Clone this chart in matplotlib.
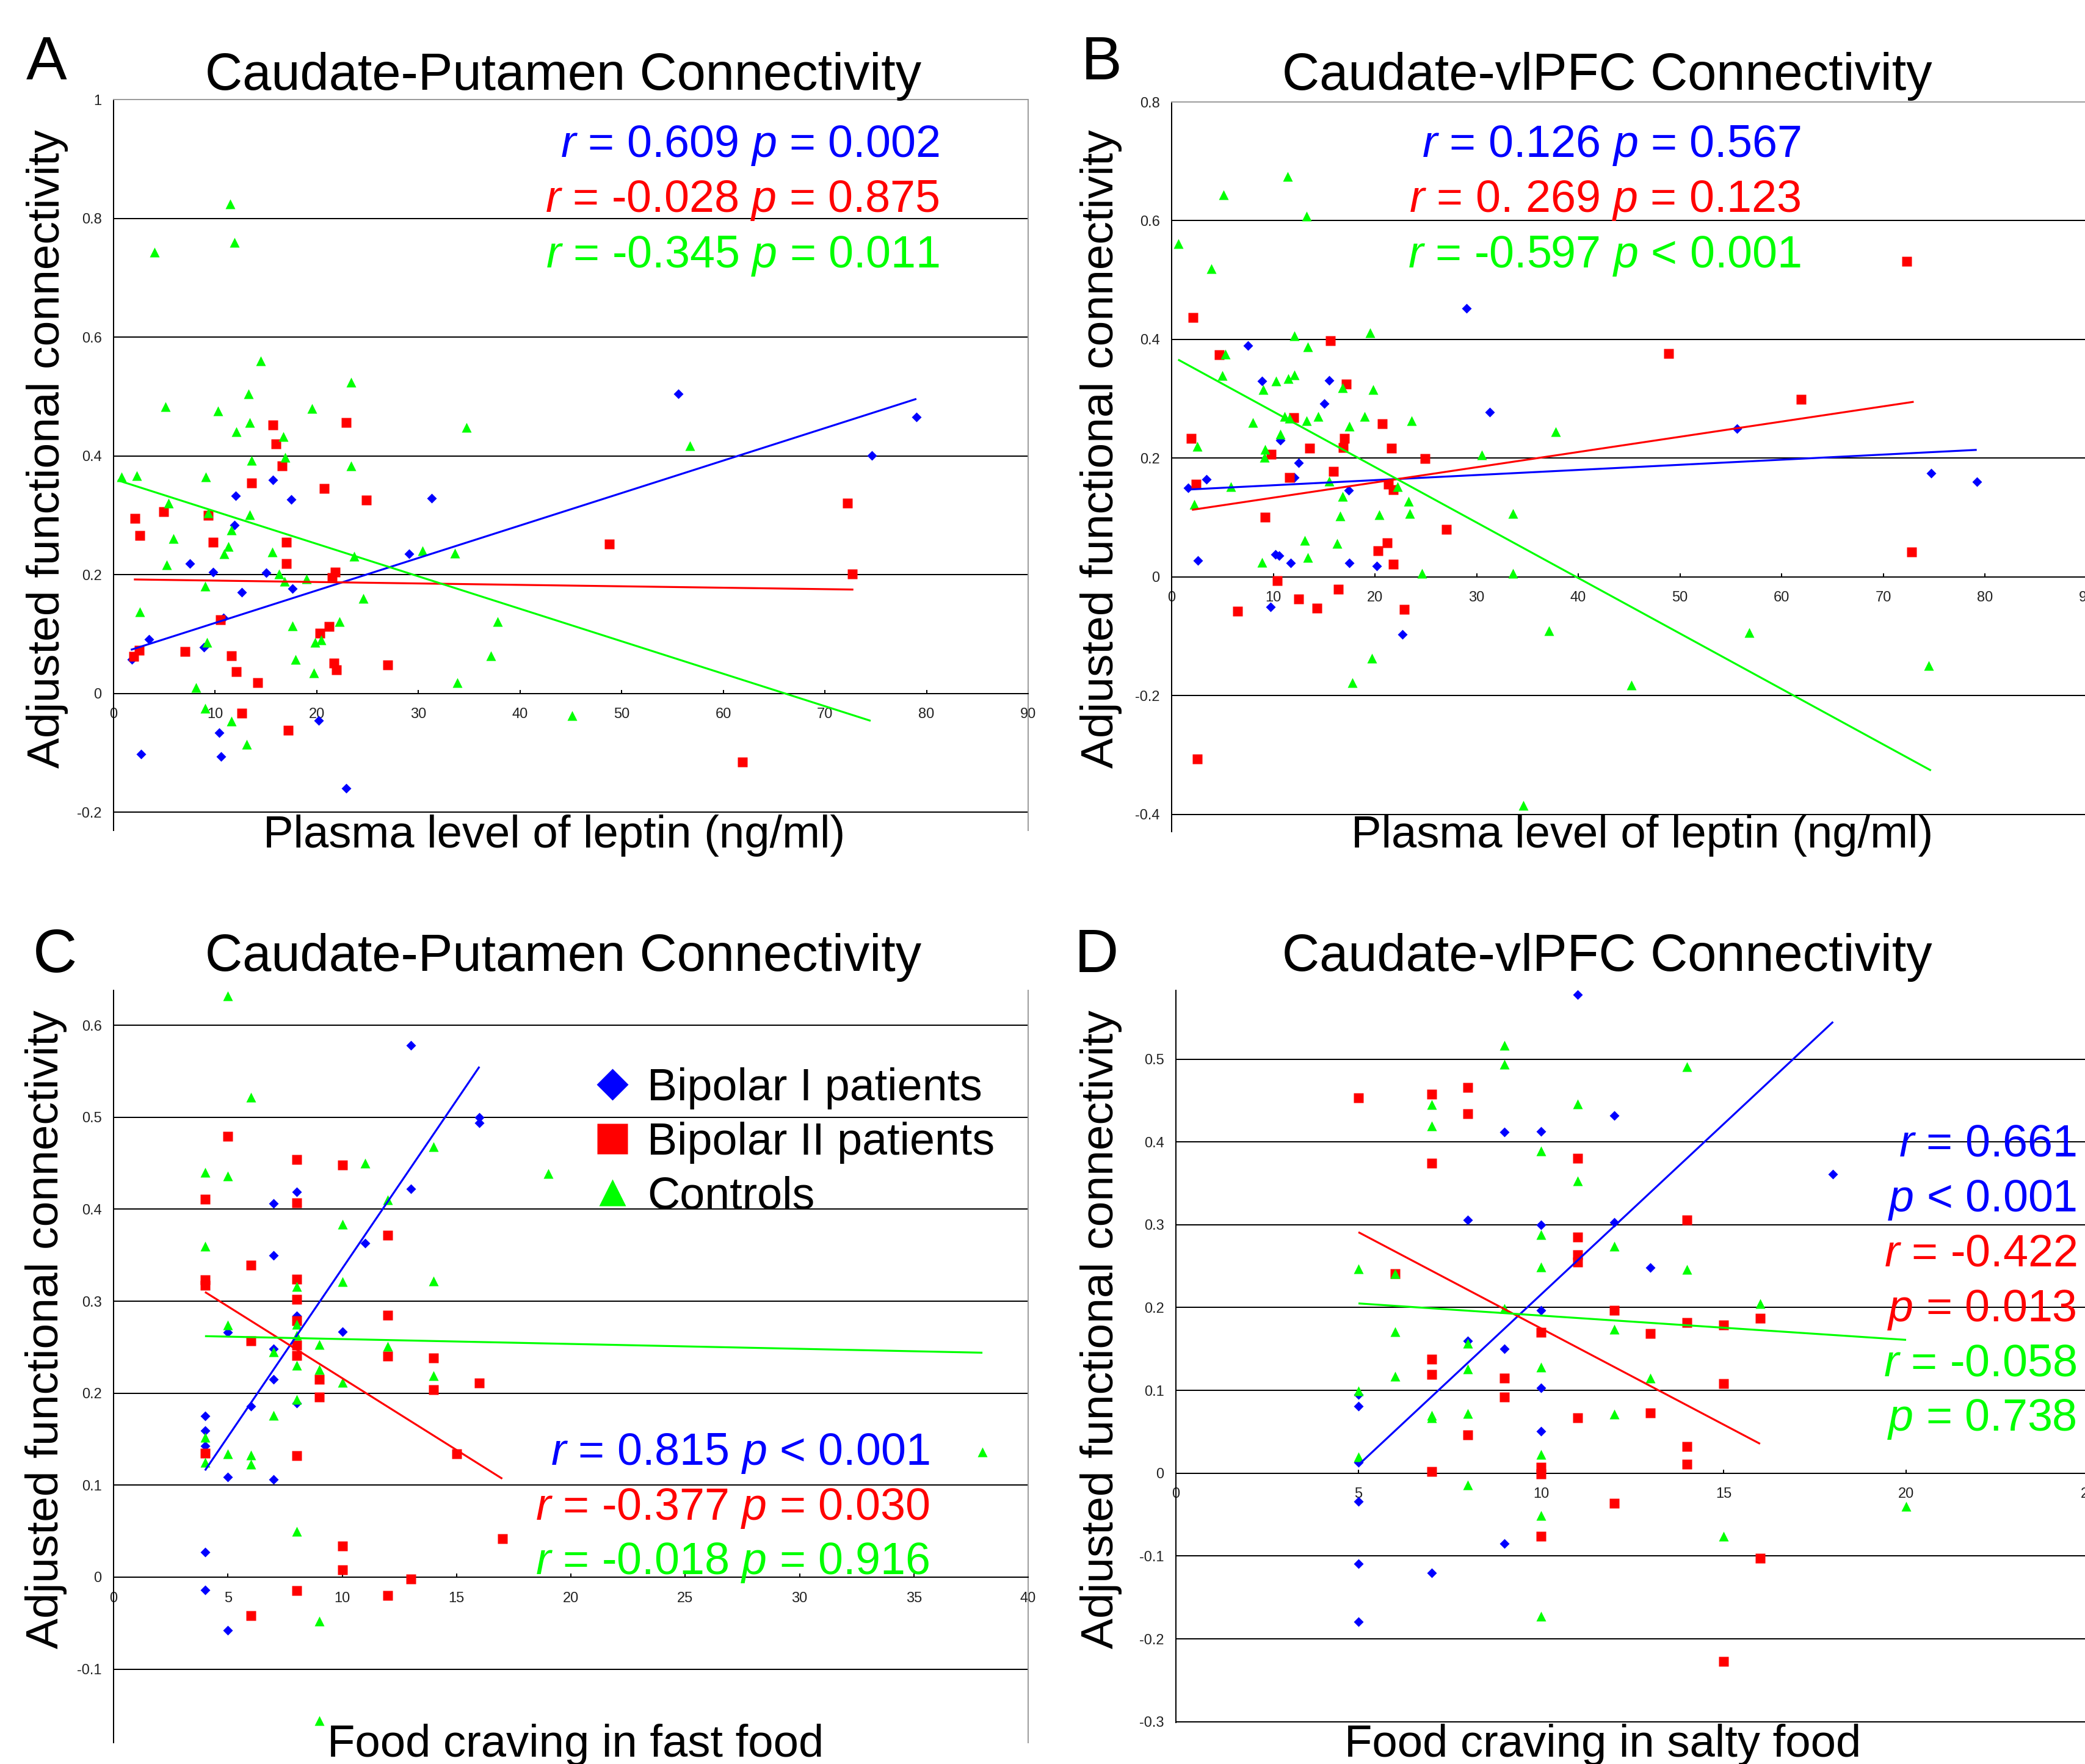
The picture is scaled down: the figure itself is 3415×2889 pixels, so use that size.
import matplotlib
matplotlib.use('Agg')
import matplotlib.pyplot as plt
from matplotlib.lines import Line2D

plt.rcParams['font.family'] = ['Liberation Sans', 'DejaVu Sans']
plt.rcParams['mathtext.fontset'] = 'custom'
plt.rcParams['mathtext.it'] = 'Liberation Sans:italic'
plt.rcParams['mathtext.rm'] = 'Liberation Sans'

# ---------------- data ----------------
groups = ['Bipolar I patients', 'Bipolar II patients', 'Controls']

# Panel A: leptin vs caudate-putamen
A_b1_x = [15.7, 12.0, 17.5, 31.3, 11.9, 7.5, 9.8, 15.0, 29.1, 17.6, 12.6, 3.5, 8.9, 1.8, 10.8, 20.2, 10.4, 2.7, 10.6, 22.9, 55.6, 74.6, 79.0]
A_b1_y = [0.360, 0.333, 0.327, 0.329, 0.284, 0.219, 0.204, 0.203, 0.235, 0.177, 0.170, 0.091, 0.078, 0.057, 0.127, -0.045, -0.066, -0.102, -0.106, -0.160, 0.505, 0.401, 0.465]
A_b2_x = [15.7, 22.9, 16.0, 16.6, 13.6, 20.7, 24.9, 2.1, 4.9, 9.3, 2.6, 9.8, 17.0, 17.0, 21.8, 21.5, 10.5, 21.2, 20.3, 2.5, 2.0, 7.0, 11.6, 12.1, 14.2, 21.7, 21.9, 27.0, 12.6, 17.2, 48.8, 72.2, 72.7, 61.9]
A_b2_y = [0.452, 0.456, 0.420, 0.383, 0.354, 0.345, 0.326, 0.295, 0.306, 0.300, 0.266, 0.255, 0.255, 0.219, 0.204, 0.195, 0.124, 0.113, 0.102, 0.073, 0.062, 0.071, 0.063, 0.037, 0.018, 0.051, 0.040, 0.048, -0.033, -0.062, 0.252, 0.321, 0.201, -0.115]
A_c_x = [14.5, 23.4, 13.3, 5.1, 10.3, 19.5, 13.4, 12.1, 16.7, 34.7, 16.9, 13.6, 23.4, 0.8, 2.3, 9.1, 5.4, 9.3, 13.4, 11.6, 5.9, 11.3, 10.9, 15.6, 5.2, 23.7, 30.4, 33.6, 16.3, 16.8, 19.0, 9.0, 24.6, 2.6, 17.6, 22.2, 37.8, 9.2, 19.8, 20.4, 17.9, 37.1, 19.7, 33.8, 8.1, 9.0, 11.6, 13.1, 45.1, 4.0, 11.5, 11.9, 56.7]
A_c_y = [0.560, 0.524, 0.505, 0.483, 0.476, 0.480, 0.456, 0.441, 0.433, 0.448, 0.398, 0.392, 0.383, 0.365, 0.367, 0.365, 0.321, 0.304, 0.301, 0.275, 0.261, 0.248, 0.235, 0.238, 0.217, 0.231, 0.240, 0.236, 0.201, 0.189, 0.193, 0.181, 0.160, 0.138, 0.114, 0.121, 0.121, 0.086, 0.086, 0.090, 0.057, 0.063, 0.035, 0.018, 0.010, -0.025, -0.047, -0.086, -0.037, 0.743, 0.824, 0.759, 0.417]
A_fit_b1_x, A_fit_b1_y = [1.7, 79.0], [0.0735, 0.496]
A_fit_b2_x, A_fit_b2_y = [2.0, 72.8], [0.192, 0.175]
A_fit_c_x, A_fit_c_y = [0.4, 74.5], [0.359, -0.046]

# Panel B: leptin vs caudate-vlPFC
B_b1_x = [29.0, 7.5, 8.9, 15.5, 15.0, 31.3, 10.7, 12.5, 12.1, 3.4, 1.6, 17.4, 2.6, 10.2, 10.6, 11.7, 17.5, 20.2, 9.7, 22.7, 55.6, 74.7, 79.2]
B_b1_y = [0.452, 0.390, 0.330, 0.331, 0.292, 0.278, 0.230, 0.192, 0.167, 0.164, 0.150, 0.146, 0.028, 0.038, 0.036, 0.024, 0.024, 0.018, -0.051, -0.097, 0.250, 0.175, 0.160]
B_b2_x = [2.1, 15.6, 4.7, 17.2, 12.0, 20.7, 1.95, 17.0, 16.9, 13.6, 21.6, 9.8, 24.9, 15.9, 11.6, 2.4, 21.3, 21.8, 9.2, 27.0, 21.2, 20.3, 21.8, 10.4, 16.4, 12.5, 14.3, 22.9, 6.5, 2.5, 48.9, 61.9, 72.3, 72.8]
B_b2_y = [0.437, 0.398, 0.374, 0.325, 0.268, 0.258, 0.233, 0.233, 0.218, 0.217, 0.217, 0.207, 0.199, 0.178, 0.167, 0.156, 0.156, 0.147, 0.101, 0.080, 0.057, 0.044, 0.021, -0.006, -0.021, -0.037, -0.053, -0.055, -0.058, -0.307, 0.376, 0.299, 0.532, 0.042]
B_c_x = [3.9, 12.1, 19.5, 13.4, 5.3, 5.0, 10.3, 11.5, 12.1, 9.0, 16.8, 19.8, 8.0, 11.1, 11.6, 13.3, 14.4, 19.0, 17.5, 23.6, 37.8, 10.7, 2.5, 9.2, 9.1, 30.5, 5.8, 15.5, 22.2, 2.2, 16.8, 23.3, 16.6, 20.4, 23.4, 33.6, 13.1, 16.3, 8.9, 13.4, 24.6, 33.6, 37.1, 19.7, 17.8, 45.2, 0.64, 5.1, 11.4, 13.3, 56.8, 74.5, 34.6]
B_c_y = [0.519, 0.406, 0.411, 0.388, 0.375, 0.339, 0.330, 0.334, 0.340, 0.316, 0.319, 0.316, 0.260, 0.270, 0.267, 0.263, 0.270, 0.270, 0.254, 0.263, 0.245, 0.241, 0.220, 0.215, 0.201, 0.206, 0.152, 0.161, 0.152, 0.122, 0.136, 0.127, 0.103, 0.105, 0.107, 0.107, 0.062, 0.056, 0.025, 0.033, 0.006, 0.006, -0.091, -0.137, -0.178, -0.182, 0.561, 0.644, 0.675, 0.608, -0.094, -0.149, -0.385]
B_fit_b1_x, B_fit_b1_y = [1.4, 79.2], [0.147, 0.214]
B_fit_b2_x, B_fit_b2_y = [2.0, 73.0], [0.113, 0.295]
B_fit_c_x, B_fit_c_y = [0.64, 74.7], [0.366, -0.326]

# Panel C: fast food craving vs caudate-putamen
C_b1_x = [13, 16, 16, 13, 8, 7, 11, 7, 8, 10, 5, 7, 7, 8, 6, 4, 4, 4, 5, 7, 4, 4, 5]
C_b1_y = [0.578, 0.500, 0.494, 0.422, 0.419, 0.406, 0.363, 0.350, 0.284, 0.267, 0.266, 0.248, 0.215, 0.189, 0.186, 0.175, 0.159, 0.143, 0.109, 0.106, 0.027, -0.014, -0.058]
C_b2_x = [5, 8, 10, 4, 8, 12, 6, 4, 4, 8, 8, 8, 12, 6, 8, 8, 12, 14, 9, 14, 16, 9, 4, 8, 15, 10, 17, 10, 13, 8, 12, 6]
C_b2_y = [0.479, 0.454, 0.448, 0.411, 0.407, 0.372, 0.339, 0.323, 0.317, 0.324, 0.302, 0.279, 0.285, 0.257, 0.252, 0.241, 0.240, 0.238, 0.215, 0.204, 0.211, 0.196, 0.135, 0.132, 0.134, 0.034, 0.042, 0.008, -0.002, -0.015, -0.020, -0.042]
C_c_x = [5, 6, 14, 11, 19, 4, 5, 12, 10, 4, 10, 14, 8, 5, 8, 8, 9, 12, 7, 8, 9, 14, 10, 8, 7, 4, 5, 6, 6, 4, 8, 9, 9, 38]
C_c_y = [0.632, 0.522, 0.468, 0.450, 0.439, 0.440, 0.436, 0.410, 0.384, 0.360, 0.321, 0.322, 0.316, 0.274, 0.275, 0.263, 0.253, 0.251, 0.245, 0.230, 0.226, 0.219, 0.212, 0.193, 0.176, 0.152, 0.134, 0.133, 0.123, 0.125, 0.050, -0.048, -0.156, 0.136]
C_fit_b1_x, C_fit_b1_y = [4, 16], [0.116, 0.555]
C_fit_b2_x, C_fit_b2_y = [4, 17], [0.310, 0.107]
C_fit_c_x, C_fit_c_y = [4, 38], [0.262, 0.244]

# Panel D: salty food craving vs caudate-vlPFC
D_b1_x = [11, 12, 9, 10, 8, 10, 12, 13, 10, 8, 9, 10, 5, 5, 10, 5, 5, 9, 5, 7, 5, 18]
D_b1_y = [0.578, 0.432, 0.412, 0.413, 0.306, 0.300, 0.303, 0.248, 0.197, 0.160, 0.150, 0.103, 0.095, 0.081, 0.051, 0.013, -0.034, -0.085, -0.109, -0.120, -0.179, 0.361]
D_b2_x = [8, 5, 7, 8, 7, 11, 14, 11, 11, 11, 6, 12, 14, 15, 16, 10, 13, 7, 7, 9, 9, 15, 11, 13, 8, 14, 14, 7, 10, 10, 12, 10, 16, 15]
D_b2_y = [0.466, 0.453, 0.458, 0.434, 0.374, 0.380, 0.306, 0.285, 0.264, 0.255, 0.241, 0.197, 0.182, 0.179, 0.187, 0.170, 0.169, 0.138, 0.119, 0.115, 0.092, 0.108, 0.067, 0.073, 0.046, 0.032, 0.011, 0.002, 0.007, -0.001, -0.036, -0.076, -0.103, -0.227]
D_c_x = [9, 9, 14, 7, 11, 7, 10, 11, 10, 12, 5, 6, 10, 14, 16, 9, 6, 12, 8, 8, 10, 6, 13, 5, 7, 7, 8, 12, 10, 5, 8, 10, 15, 10, 20]
D_c_y = [0.517, 0.494, 0.491, 0.445, 0.446, 0.419, 0.389, 0.353, 0.288, 0.274, 0.247, 0.241, 0.249, 0.246, 0.205, 0.199, 0.171, 0.174, 0.157, 0.126, 0.128, 0.117, 0.115, 0.099, 0.070, 0.067, 0.072, 0.071, 0.023, 0.020, -0.014, -0.051, -0.076, -0.173, -0.040]
D_fit_b1_x, D_fit_b1_y = [5, 18], [0.010, 0.545]
D_fit_b2_x, D_fit_b2_y = [5, 16], [0.291, 0.0355]
D_fit_c_x, D_fit_c_y = [5, 20], [0.205, 0.161]

# ticks
A_xticks = [0, 10, 20, 30, 40, 50, 60, 70, 80, 90]
A_yticks = [-0.2, 0, 0.2, 0.4, 0.6, 0.8, 1.0]
A_ylabels = ['-0.2', '0', '0.2', '0.4', '0.6', '0.8', '1']
B_xticks = A_xticks
B_yticks = [-0.4, -0.2, 0, 0.2, 0.4, 0.6, 0.8]
B_ylabels = ['-0.4', '-0.2', '0', '0.2', '0.4', '0.6', '0.8']
C_xticks = [0, 5, 10, 15, 20, 25, 30, 35, 40]
C_yticks = [-0.1, 0, 0.1, 0.2, 0.3, 0.4, 0.5, 0.6]
C_ylabels = ['-0.1', '0', '0.1', '0.2', '0.3', '0.4', '0.5', '0.6']
D_xticks = [0, 5, 10, 15, 20, 25]
D_yticks = [-0.3, -0.2, -0.1, 0, 0.1, 0.2, 0.3, 0.4, 0.5]
D_ylabels = ['-0.3', '-0.2', '-0.1', '0', '0.1', '0.2', '0.3', '0.4', '0.5']

titles = ['Caudate-Putamen Connectivity', 'Caudate-vlPFC Connectivity',
          'Caudate-Putamen Connectivity', 'Caudate-vlPFC Connectivity']
xlabels = ['Plasma level of leptin (ng/ml)', 'Plasma level of leptin (ng/ml)',
           'Food craving in fast food', 'Food craving in salty food']
ylabel = 'Adjusted functional connectivity'
letters = ['A', 'B', 'C', 'D']

A_stats = [r'$\mathit{r}$ = 0.609 $\mathit{p}$ = 0.002',
           r'$\mathit{r}$ = -0.028 $\mathit{p}$ = 0.875',
           r'$\mathit{r}$ = -0.345 $\mathit{p}$ = 0.011']
B_stats = [r'$\mathit{r}$ = 0.126 $\mathit{p}$ = 0.567',
           r'$\mathit{r}$ = 0. 269 $\mathit{p}$ = 0.123',
           r'$\mathit{r}$ = -0.597 $\mathit{p}$ < 0.001']
C_stats = [r'$\mathit{r}$ = 0.815 $\mathit{p}$ < 0.001',
           r'$\mathit{r}$ = -0.377 $\mathit{p}$ = 0.030',
           r'$\mathit{r}$ = -0.018 $\mathit{p}$ = 0.916']
D_stats = [r'$\mathit{r}$ = 0.661', r'$\mathit{p}$ < 0.001',
           r'$\mathit{r}$ = -0.422', r'$\mathit{p}$ = 0.013',
           r'$\mathit{r}$ = -0.058', r'$\mathit{p}$ = 0.738']

# ---------------- style ----------------
W, H = 3415, 2889
BLUE, RED, GREEN = '#0000FF', '#FF0000', '#00FF00'
COLORS = [BLUE, RED, GREEN]
MARKERS = [('D', 8.3), ('s', 11.0), ('^', 12.0)]
BORDER = '#9a9a9a'
LW = 1.44

fig = plt.figure(figsize=(W / 100, H / 100), dpi=100)


def ftext(x, y, s, **kw):
    return fig.text(x / W, 1 - y / H, s, **kw)


def make_axes(left, top, right, bottom, xlim, ylim, xticks, yticks, ylabels,
              top_border, right_border):
    ax = fig.add_axes([left / W, 1 - bottom / H, (right - left) / W, (bottom - top) / H])
    ax.set_xlim(xlim)
    ax.set_ylim(ylim)
    ax.set_axisbelow(True)
    ax.patch.set_alpha(0)
    ax.spines['left'].set_color('black')
    ax.spines['left'].set_linewidth(LW)
    ax.spines['bottom'].set_position(('data', 0))
    ax.spines['bottom'].set_color('black')
    ax.spines['bottom'].set_linewidth(LW)
    ax.spines['top'].set_visible(top_border)
    ax.spines['top'].set_color(BORDER)
    ax.spines['top'].set_linewidth(1.4)
    ax.spines['right'].set_visible(right_border)
    ax.spines['right'].set_color(BORDER)
    ax.spines['right'].set_linewidth(1.4)
    ax.set_xticks(xticks)
    ax.set_xticklabels([str(t) for t in xticks])
    ax.set_yticks(yticks)
    ax.set_yticklabels(ylabels)
    ax.tick_params(axis='x', direction='in', length=4.3, width=LW, pad=17,
                   labelsize=17, labelcolor='#222222', color='black')
    ax.tick_params(axis='y', length=0, pad=14, labelsize=17, labelcolor='#222222')
    ax.yaxis.grid(True, color='black', linewidth=LW)
    for tick in ax.yaxis.get_major_ticks():
        if abs(tick.get_loc() - ylim[1]) < 1e-9:
            tick.gridline.set_visible(False)
    return ax


def draw(ax, pts, fits):
    for (x, y), (m, ms), c in zip(pts, MARKERS, COLORS):
        ax.plot(x, y, ls='none', marker=m, ms=ms, mfc=c, mec='none',
                clip_on=False, zorder=3)
    for (fx, fy), c in zip(fits, COLORS):
        ax.plot(fx, fy, color=c, lw=2.3, zorder=4, solid_capstyle='butt')


axA = make_axes(186, 163, 1684, 1360, (0, 90), (-0.2305, 1.0), A_xticks, A_yticks, A_ylabels, True, True)
draw(axA, [(A_b1_x, A_b1_y), (A_b2_x, A_b2_y), (A_c_x, A_c_y)],
     [(A_fit_b1_x, A_fit_b1_y), (A_fit_b2_x, A_fit_b2_y), (A_fit_c_x, A_fit_c_y)])

axB = make_axes(1919, 167, 1919 + 90 * 16.65, 1362, (0, 90), (-0.429, 0.8), B_xticks, B_yticks, B_ylabels, True, True)
draw(axB, [(B_b1_x, B_b1_y), (B_b2_x, B_b2_y), (B_c_x, B_c_y)],
     [(B_fit_b1_x, B_fit_b1_y), (B_fit_b2_x, B_fit_b2_y), (B_fit_c_x, B_fit_c_y)])

axC = make_axes(186, 1622, 1684, 2854, (0, 40), (-0.18, 0.638), C_xticks, C_yticks, C_ylabels, False, True)
draw(axC, [(C_b1_x, C_b1_y), (C_b2_x, C_b2_y), (C_c_x, C_c_y)],
     [(C_fit_b1_x, C_fit_b1_y), (C_fit_b2_x, C_fit_b2_y), (C_fit_c_x, C_fit_c_y)])

axD = make_axes(1926, 1622, 1926 + 25 * 59.8, 2821, (0, 25), (-0.301, 0.583), D_xticks, D_yticks, D_ylabels, False, True)
draw(axD, [(D_b1_x, D_b1_y), (D_b2_x, D_b2_y), (D_c_x, D_c_y)],
     [(D_fit_b1_x, D_fit_b1_y), (D_fit_b2_x, D_fit_b2_y), (D_fit_c_x, D_fit_c_y)])

# ---------------- texts ----------------
for s, (x, y) in zip(letters, [(43, 130), (1771, 130), (54, 1592), (1760, 1592)]):
    ftext(x, y, s, fontsize=72, ha='left', va='baseline')
for s, (x, y) in zip(titles, [(923, 147), (2632, 147), (923, 1590), (2632, 1590)]):
    ftext(x, y, s, fontsize=61, ha='center', va='baseline')
for (x, y) in [(78, 735), (1804, 735), (76, 2177), (1804, 2177)]:
    ftext(x, y, ylabel, fontsize=54, rotation=90, ha='center', va='center')
for s, (x, y) in zip(xlabels, [(908, 1388), (2690, 1388), (943, 2877), (2625, 2877)]):
    ftext(x, y, s, fontsize=53.5, ha='center', va='baseline')

for lines, xr, ys in [(A_stats, 1539, [257, 347, 438]),
                      (B_stats, 2950, [257, 347, 438]),
                      (C_stats, 1523, [2399, 2489, 2578]),
                      (D_stats, 3401, [1894, 1984, 2074, 2164, 2253, 2343])]:
    n = len(lines)
    for i, (s, y) in enumerate(zip(lines, ys)):
        c = COLORS[i * 3 // n]
        ftext(xr, y, s, fontsize=53, color=c, ha='right', va='baseline')

# legend (panel C)
leg_ms = [26.5, 36, 32]
for i, (g, (m, _), c) in enumerate(zip(groups, MARKERS, COLORS)):
    yc = [1776, 1865, 1953][i]
    fig.add_artist(Line2D([1003 / W], [1 - yc / H], transform=fig.transFigure,
                          ls='none', marker=m, ms=leg_ms[i], mfc=c, mec='none'))
    ftext(1060, yc + 26, g, fontsize=53, ha='left', va='baseline')

fig.savefig('out.png', dpi=100)
